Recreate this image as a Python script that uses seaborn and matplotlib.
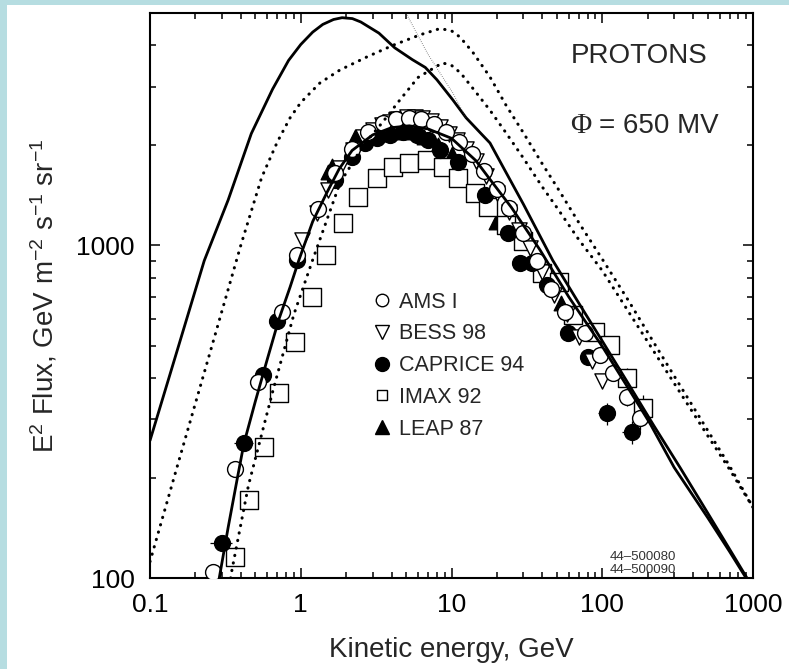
import matplotlib
matplotlib.use("Agg")
import matplotlib.pyplot as plt
from matplotlib.lines import Line2D
from matplotlib.patches import Rectangle
import seaborn as sns

# ---- model curves: E^2 x flux versus kinetic energy ----
# interstellar proton spectrum
lis_energy = [0.1, 0.15, 0.229, 0.33, 0.47, 0.65, 0.83, 1.0, 1.2, 1.4, 1.65, 1.88, 2.2,
              2.5, 3.3, 4.2, 5.5, 6.7, 8.0, 10.2, 12.5, 16, 18, 22, 30, 47, 70, 100, 150,
              220, 330, 500, 700, 912]
lis_flux = [259, 476, 900, 1370, 2170, 2950, 3600, 4020, 4380, 4620, 4780, 4840, 4810,
            4700, 4350, 3930, 3620, 3430, 3150, 2740, 2420, 2150, 2033, 1720, 1330, 901,
            670, 516, 382, 287, 214, 157, 122, 100]

# spectrum modulated with phi = 650 MV
mod_energy = [0.288, 0.33, 0.38, 0.42, 0.5, 0.6, 0.713, 0.85, 0.97, 1.2, 1.5, 1.8, 2.19,
              3.0, 4.0, 5.25, 7.0, 10, 14.5, 18, 25, 38.6, 60, 100, 150, 207, 300, 500,
              700, 912]
mod_flux = [100, 142, 200, 254, 340, 455, 596, 750, 901, 1180, 1450, 1700, 1930,
            2150, 2260, 2290, 2240, 2100, 1800, 1580, 1300, 970, 700, 497, 370, 292,
            215, 152, 120, 99]

# dotted model curves
dot_hi_energy = [0.1, 0.15, 0.25, 0.4, 0.55, 0.7, 0.85, 1.0, 1.34, 1.82, 2.75, 4.1, 6.2,
                 8.4, 10, 11.4, 13.9, 18, 23, 30, 40, 50, 70, 100, 150, 220, 300, 500,
                 700, 1000]
dot_hi_flux = [112, 213, 476, 1000, 1600, 2050, 2420, 2690, 3080, 3370, 3690, 4000, 4300,
               4490, 4420, 4230, 3800, 3210, 2640, 2180, 1760, 1500, 1170, 910, 680,
               510, 405, 278, 217, 163]

dot_lo_energy = [0.33, 0.35, 0.45, 0.655, 0.9, 1.2, 1.82, 2.6, 3.5, 4.55, 6.0, 8.7, 10,
                 11.5, 14, 18, 23, 30, 40, 50, 70, 100, 150, 220, 300, 500, 700, 1000]
dot_lo_flux = [90, 106, 190, 367, 620, 905, 1540, 2000, 2350, 2740, 3200, 3540, 3480,
               3300, 2950, 2550, 2180, 1830, 1500, 1300, 1040, 840, 630, 480, 385, 268,
               212, 163]

thin_energy = [5.07, 7.0, 10.2, 11.7, 12.5]
thin_flux = [4930, 3750, 2875, 2557, 2425]

# ---- measurements ----
ams_energy = [0.262, 0.366, 0.52, 0.751, 0.944, 1.3, 1.7, 2.2, 2.8, 3.5, 4.3, 5.2, 6.3,
              7.6, 9.2, 11.2, 13.6, 16.5, 20, 24, 30, 37, 46, 57, 77, 97, 118, 146, 178]
ams_flux = [104, 213, 388, 631, 936, 1290, 1650, 1950, 2200, 2330, 2400, 2420, 2400,
            2320, 2200, 2050, 1880, 1680, 1480, 1300, 1090, 900, 740, 630, 545, 468, 414,
            350, 303]
ams_eerr = [0.03, 0.04, 0.05, 0.06, 0.06, 0, 0, 0, 0, 0, 0, 0, 0, 0, 0, 0, 0, 0, 0, 0,
            0, 0, 0, 0, 0, 0, 8, 12, 16]
ams_ferr = [0, 0, 0, 0, 0, 0, 0, 0, 0, 0, 0, 0, 0, 0, 0, 0, 0, 0, 0, 0, 0, 0, 0, 0, 0,
            0, 20, 22, 24]

bess_energy = [1.02, 1.28, 1.51, 1.82, 2.22, 2.6, 3.02, 3.45, 3.91, 4.45, 5.07, 5.7, 6.38,
               7.3, 8.4, 9.6, 10.9, 12.5, 14.5, 17, 20, 24, 28, 33, 40, 48, 58, 70, 85, 100]
bess_flux = [1039, 1253, 1469, 1711, 1937, 2120, 2226, 2300, 2351, 2400, 2435, 2440, 2418,
             2360, 2272, 2170, 2075, 1950, 1800, 1620, 1440, 1260, 1110, 980, 830, 710,
             620, 530, 450, 390]

caprice_energy = [0.30, 0.42, 0.562, 0.695, 0.944, 1.69, 2.19, 2.67, 3.2, 3.91, 4.77, 5.9,
                  6.97, 8.4, 11, 16.7, 23.7, 28.4, 34.2, 43, 59.3, 80.5, 108, 157]
caprice_flux = [127, 255, 408, 593, 906, 1574, 1846, 2032, 2105, 2150, 2190, 2150, 2075,
                1937, 1782, 1418, 1090, 886, 886, 760, 545, 462, 313, 275]
caprice_eerr = [0.05, 0.06, 0.05, 0.05, 0.06, 0.08, 0.1, 0.12, 0.15, 0.2, 0.25, 0.3,
                0.35, 0.4, 0.5, 0.8, 1.2, 1.5, 2, 3, 4, 6, 14, 22]
caprice_ferr = [6, 10, 14, 18, 25, 35, 40, 40, 40, 40, 40, 40, 40, 40, 40, 35, 30, 28,
                28, 26, 25, 25, 24, 22]

imax_energy = [0.366, 0.454, 0.57, 0.718, 0.916, 1.19, 1.47, 1.9, 2.4, 3.2, 4.09, 5.2,
               6.87, 8.8, 11, 14.3, 17.5, 23, 29.8, 39.8, 51.6, 64, 89.5, 112, 146, 186]
imax_flux = [116, 172, 248, 360, 513, 700, 936, 1169, 1399, 1597, 1722, 1771, 1808, 1722,
             1597, 1438, 1305, 1150, 1031, 826, 777, 618, 549, 502, 399, 325]
imax_ferr = [5, 7, 9, 12, 16, 20, 25, 30, 32, 35, 35, 35, 35, 35, 35, 32, 30, 28, 26, 24,
             24, 22, 24, 26, 28, 30]

leap_energy = [1.51, 1.62, 2.3, 2.8, 3.5, 4.4, 5.4, 6.6, 8.1, 10, 19.7, 53]
leap_flux = [1664, 1730, 2120, 2150, 2170, 2200, 2190, 2120, 2000, 1880, 1177, 672]

sns.set_style("ticks")
plt.rcParams["font.family"] = ["Liberation Sans", "DejaVu Sans"]
plt.rcParams["mathtext.fontset"] = "custom"
plt.rcParams["mathtext.rm"] = "Liberation Sans"
plt.rcParams["mathtext.default"] = "regular"

W, H = 789, 669
fig = plt.figure(figsize=(W / 100, H / 100), dpi=100)
fig.patch.set_facecolor("#b6dde1")
fig.add_artist(Rectangle((7 / W, 0), 1, 1 - 5 / H, transform=fig.transFigure,
                         facecolor="white", edgecolor="none", zorder=0))

ax = fig.add_axes([150 / W, 1 - 578 / H, 603 / W, 565 / H])
ax.set_facecolor("white")
ax.set_xscale("log")
ax.set_yscale("log")

# curves
sns.lineplot(x=lis_energy, y=lis_flux, ax=ax, color="black", linewidth=2.0,
             sort=False, estimator=None, zorder=4)
sns.lineplot(x=mod_energy, y=mod_flux, ax=ax, color="black", linewidth=2.0,
             sort=False, estimator=None, zorder=4)
for ex, fx in [(dot_hi_energy, dot_hi_flux), (dot_lo_energy, dot_lo_flux)]:
    sns.lineplot(x=ex, y=fx, ax=ax, color="black", linewidth=2.2, sort=False,
                 estimator=None, zorder=4, linestyle=(0, (0.1, 2.4)),
                 dash_capstyle="round")
sns.lineplot(x=thin_energy, y=thin_flux, ax=ax, color="#444444", linewidth=0.7,
             sort=False, estimator=None, zorder=4, linestyle=(0, (0.6, 1.6)))

# error bars
eb = dict(fmt="none", ecolor="black", elinewidth=0.9, capsize=0, zorder=2)
ax.errorbar(caprice_energy, caprice_flux, xerr=caprice_eerr, yerr=caprice_ferr, **eb)
ax.errorbar(ams_energy, ams_flux, xerr=ams_eerr, yerr=ams_ferr, **eb)
ax.errorbar(imax_energy, imax_flux, yerr=imax_ferr, **eb)

# data points
mk = dict(ax=ax, linewidth=1.0, edgecolor="black", zorder=3, legend=False)
sns.scatterplot(x=leap_energy, y=leap_flux, marker="^", s=110, color="black", **mk)
sns.scatterplot(x=imax_energy, y=imax_flux, marker="s", s=150, color="white", **mk)
sns.scatterplot(x=caprice_energy, y=caprice_flux, marker="o", s=130, color="black", **mk)
sns.scatterplot(x=bess_energy, y=bess_flux, marker="v", s=120, color="white", **mk)
sns.scatterplot(x=ams_energy, y=ams_flux, marker="o", s=130, color="white", **mk)

ax.set_xlim(0.1, 1000)
ax.set_ylim(100, 5000)
ax.set_xticks([0.1, 1, 10, 100, 1000])
ax.set_xticklabels(["0.1", "1", "10", "100", "1000"])
ax.set_yticks([100, 1000])
ax.set_yticklabels(["100", "1000"])
ax.tick_params(which="both", direction="in", top=True, right=True, width=1.1,
               colors="black", labelsize=19)
ax.tick_params(which="major", length=7)
ax.tick_params(which="minor", length=4)
ax.tick_params(axis="x", which="major", pad=11)
ax.tick_params(axis="y", which="major", pad=11)
ax.yaxis.set_minor_formatter(matplotlib.ticker.NullFormatter())
ax.xaxis.set_minor_formatter(matplotlib.ticker.NullFormatter())
for sp in ax.spines.values():
    sp.set_linewidth(1.5)
    sp.set_color("black")

ax.set_xlabel("Kinetic energy, GeV", fontsize=20, labelpad=14)
ax.set_ylabel("E$^2$ Flux, GeV m$^{-2}$ s$^{-1}$ sr$^{-1}$", fontsize=20, labelpad=12)

# annotations
ax.text(0.698, 0.924, "PROTONS", transform=ax.transAxes, fontsize=20,
        ha="left", va="center")
ax.text(0.697, 0.800, "\u03a6", transform=ax.transAxes, fontsize=21,
        ha="left", va="center", family="Liberation Serif")
ax.text(0.745, 0.800, "= 650 MV", transform=ax.transAxes, fontsize=20,
        ha="left", va="center")
ax.text(0.763, 0.038, "44\u2013500080", transform=ax.transAxes, fontsize=9.5,
        ha="left", va="center", color="#333333")
ax.text(0.763, 0.015, "44\u2013500090", transform=ax.transAxes, fontsize=9.5,
        ha="left", va="center", color="#333333")

handles = [
    Line2D([], [], linestyle="none", marker="o", markersize=9, markerfacecolor="white",
           markeredgecolor="black", markeredgewidth=1.0),
    Line2D([], [], linestyle="none", marker="v", markersize=10, markerfacecolor="white",
           markeredgecolor="black", markeredgewidth=1.0),
    Line2D([], [], linestyle="none", marker="o", markersize=10, markerfacecolor="black",
           markeredgecolor="black"),
    Line2D([], [], linestyle="none", marker="s", markersize=7, markerfacecolor="white",
           markeredgecolor="black", markeredgewidth=1.0),
    Line2D([], [], linestyle="none", marker="^", markersize=10, markerfacecolor="black",
           markeredgecolor="black"),
]
labels = ["AMS I", "BESS 98", "CAPRICE 94", "IMAX 92", "LEAP 87"]
ax.legend(handles, labels, loc="upper left", bbox_to_anchor=(0.372, 0.507),
          frameon=False, fontsize=15.5, handlelength=0.7, handletextpad=0.45,
          labelspacing=0.5, borderpad=0, borderaxespad=0)

fig.savefig("out.png", dpi=100, facecolor=fig.get_facecolor())
